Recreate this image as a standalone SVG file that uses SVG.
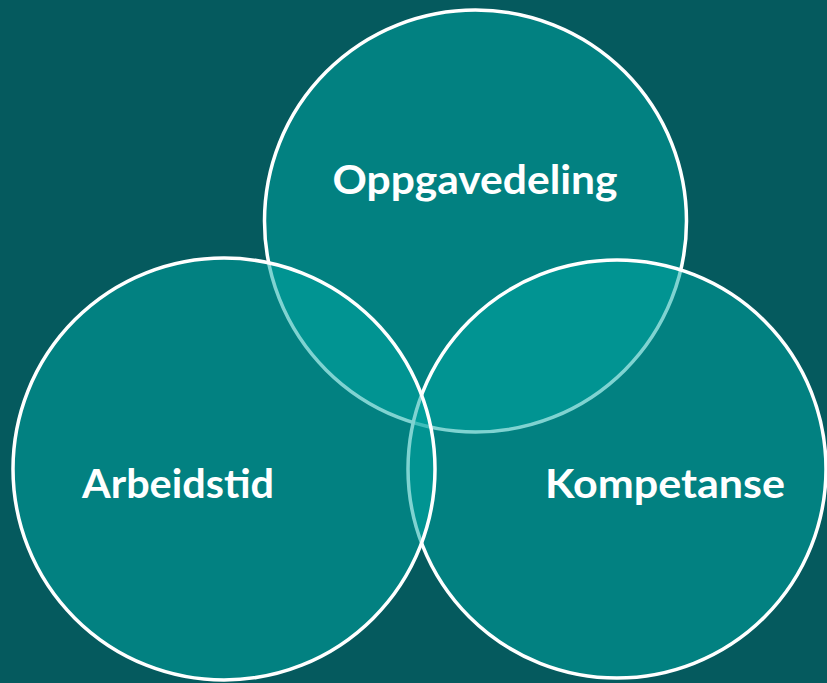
<svg xmlns="http://www.w3.org/2000/svg" width="827" height="683" viewBox="0 0 827 683">
<style>
.c{fill:#00a8a4;fill-opacity:0.5;stroke:#ffffff;stroke-width:3.5}
.t{font-family:Lato,"Open Sans","Liberation Sans",sans-serif;font-weight:bold;font-size:40px;fill:#ffffff;text-anchor:middle}
</style>
<rect width="827" height="683" fill="#055a5e"/>
<g id="oppgavedeling">
<circle class="c" cx="475.5" cy="221" r="211"/>
<text class="t" x="475" y="194" textLength="285" lengthAdjust="spacingAndGlyphs">Oppgavedeling</text>
</g>
<g id="kompetanse">
<circle class="c" cx="617" cy="469" r="209"/>
<text class="t" x="665" y="498" textLength="240" lengthAdjust="spacingAndGlyphs">Kompetanse</text>
</g>
<g id="arbeidstid">
<circle class="c" cx="224" cy="469" r="211"/>
<text class="t" x="178" y="498" textLength="192" lengthAdjust="spacingAndGlyphs">Arbeidstid</text>
</g>
<g id="connectors"/>
</svg>
